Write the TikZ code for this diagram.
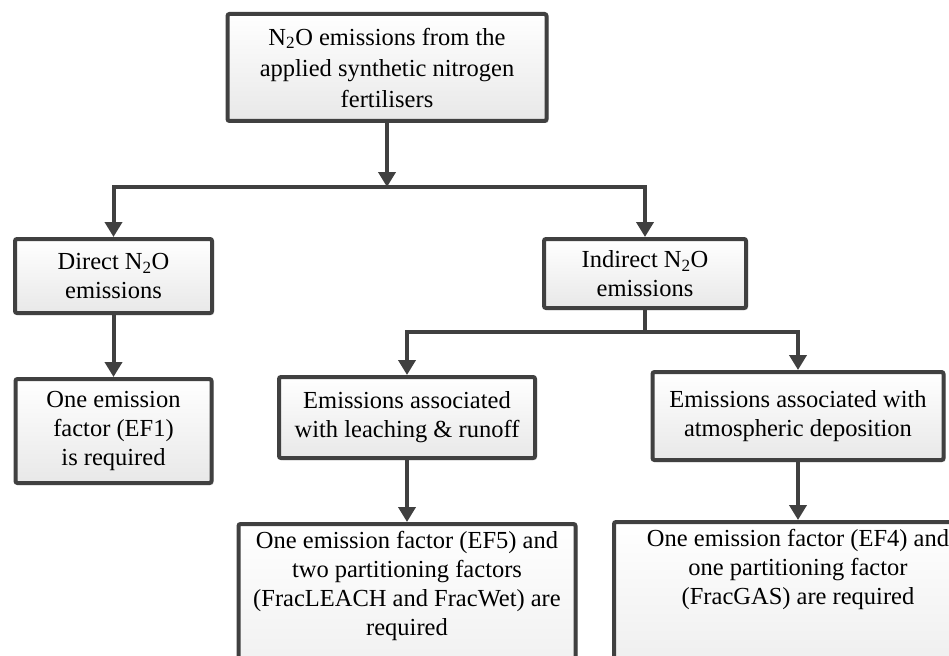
\documentclass[tikz,border=0pt]{standalone}
\usepackage{fontspec}
\setmainfont{Liberation Serif}
\usetikzlibrary{arrows.meta, positioning, shadows}

\begin{document}
\begin{tikzpicture}[
  x=1pt, y=-1pt,
  box/.style={rectangle, rounded corners=2pt, draw=black!75, line width=4pt, top color=white, bottom color=black!9, drop shadow={shadow xshift=2pt, shadow yshift=-2pt, opacity=0.3, fill=black!45}, align=center, inner sep=3pt, font=\fontsize{24.5}{29}\selectfont},
  arr/.style={draw=black!75, line width=4pt, -{Triangle[width=17pt,length=15pt]}},
  link/.style={draw=black!75, line width=4pt}
]
  \useasboundingbox (0,0) rectangle (949,655);

  \node[box, minimum width=319pt, minimum height=107pt, font=\fontsize{24.5}{31}\selectfont] (fert) at (387,67.5) {N\textsubscript{2}O emissions from the\\applied synthetic nitrogen\\fertilisers};
  \node[box, minimum width=197pt, minimum height=74pt] (direct) at (113.5,276) {Direct N\textsubscript{2}O\\emissions};
  \node[box, minimum width=202pt, minimum height=69pt] (indirect) at (645,273.5) {Indirect N\textsubscript{2}O\\emissions};
  \node[box, minimum width=196pt, minimum height=104pt] (ef1) at (113.5,431) {One emission\\factor (EF1)\\is required};
  \node[box, minimum width=256pt, minimum height=81pt] (leach) at (407,417.5) {Emissions associated\\with leaching \& runoff};
  \node[box, minimum width=291pt, minimum height=88pt] (atmos) at (798,416) {Emissions associated with\\atmospheric deposition};
  \node[box, minimum width=337pt, inner ysep=7pt, text depth=110pt, anchor=north] (ef5) at (407,522) {One emission factor (EF5) and\\two partitioning factors\\(FracLEACH and FracWet) are\\required};
  \node[box, minimum width=368pt, inner ysep=7pt, text depth=110pt, anchor=north] (ef4) at (798,520) {One emission factor (EF4) and\\one partitioning factor\\(FracGAS) are required};

  \coordinate (split1) at (387,187);
  \coordinate (split2) at (645,332);

  \draw[arr] (fert) -- (split1);
  \draw[arr] (split1) -| (direct);
  \draw[arr] (split1) -| (indirect);
  \draw[arr] (direct) -- (ef1);
  \draw[link] (indirect) -- (split2);
  \draw[arr] (split2) -| (leach);
  \draw[arr] (split2) -| (atmos);
  \draw[arr] (leach) -- (ef5);
  \draw[arr] (atmos) -- (ef4);
\end{tikzpicture}
\end{document}
